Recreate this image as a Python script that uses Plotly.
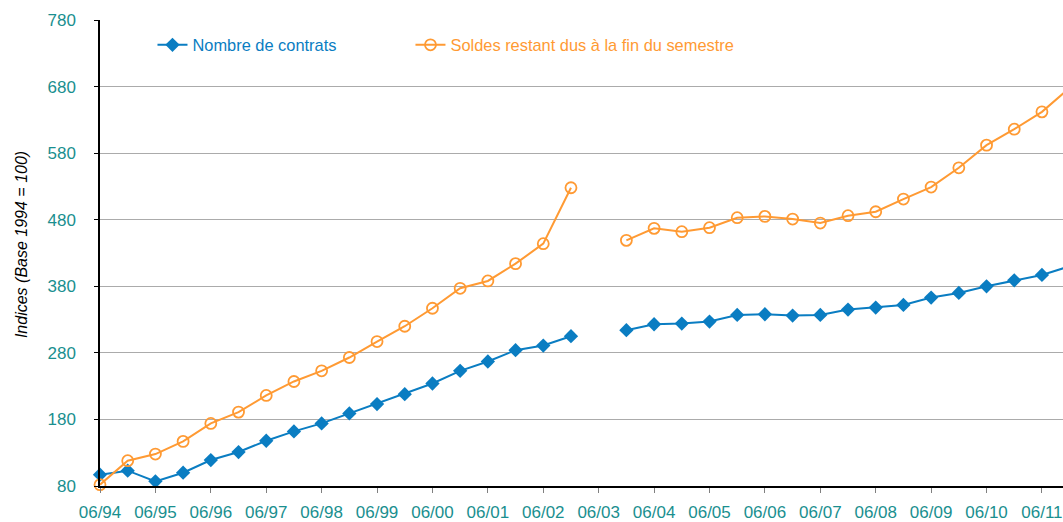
import plotly.graph_objects as go

# Semesters (June / December), 06/94 .. 12/11
semesters = ["06/94", "12/94", "06/95", "12/95", "06/96", "12/96", "06/97", "12/97",
             "06/98", "12/98", "06/99", "12/99", "06/00", "12/00", "06/01", "12/01",
             "06/02", "12/02", "06/03", "12/03", "06/04", "12/04", "06/05", "12/05",
             "06/06", "12/06", "06/07", "12/07", "06/08", "12/08", "06/09", "12/09",
             "06/10", "12/10", "06/11", "12/11"]

nombre_contrats = [97, 103, 87, 100, 119, 131, 148, 162, 174, 189, 203, 218, 234, 253,
                   267, 284, 291, 305, None, 314, 323, 324, 327, 337, 338, 336, 337, 345,
                   348, 352, 363, 370, 380, 389, 397, 410]

soldes_restant = [82, 118, 128, 147, 174, 191, 216, 237, 253, 273, 297, 320, 347, 377,
                  388, 414, 444, 528, None, 449, 467, 462, 468, 483, 485, 481, 475, 486,
                  492, 511, 529, 558, 592, 616, 642, 678]

tick_labels = [s for s in semesters if s.startswith("06/")]
y_ticks = [80, 180, 280, 380, 480, 580, 680, 780]

BLUE = "#0a7dc2"
ORANGE = "#ff9a33"
TEAL = "#1a8f8f"
FONT = "Liberation Sans, Arial, sans-serif"

fig = go.Figure()
fig.add_trace(go.Scatter(
    x=semesters, y=nombre_contrats, name="Nombre de contrats",
    mode="lines+markers", connectgaps=False, cliponaxis=False,
    line=dict(color=BLUE, width=2),
    marker=dict(symbol="diamond", size=11, color=BLUE),
    legend="legend",
))
fig.add_trace(go.Scatter(
    x=semesters, y=soldes_restant, name="Soldes restant dus à la fin du semestre",
    mode="lines+markers", connectgaps=False, cliponaxis=False,
    line=dict(color=ORANGE, width=2),
    marker=dict(symbol="circle-open", size=11, color=ORANGE, line=dict(width=1.8, color=ORANGE)),
    legend="legend2",
))

fig.update_layout(
    width=1063, height=522,
    margin=dict(l=100, r=0, t=20, b=34),
    paper_bgcolor="white", plot_bgcolor="white",
    font=dict(family=FONT, size=16, color=TEAL),
    showlegend=True,
    legend=dict(
        orientation="h", x=0.0545, y=0.9835, xanchor="left", yanchor="top",
        bgcolor="rgba(0,0,0,0)", font=dict(size=16.4, color=BLUE),
    ),
    legend2=dict(
        orientation="h", x=0.3224, y=0.9835, xanchor="left", yanchor="top",
        bgcolor="rgba(0,0,0,0)", font=dict(size=16.4, color=ORANGE),
    ),
    annotations=[dict(
        text="<i>Indices (Base 1994 = 100)</i>", textangle=-90,
        xref="paper", yref="paper", x=0, y=0.517, xanchor="center", yanchor="middle",
        xshift=-79, showarrow=False,
        font=dict(color="black", size=16, family=FONT),
    )],
)

fig.update_xaxes(
    type="category", categoryorder="array", categoryarray=semesters,
    range=[0, 34.76],
    tickmode="array", tickvals=tick_labels, ticktext=tick_labels,
    ticks="outside", ticklen=5, tickcolor="#808080",
    showline=True, linecolor="black", linewidth=1.5,
    showgrid=False, zeroline=False,
    tickfont=dict(color=TEAL, size=17, family=FONT),
    ticklabelstandoff=5,
)
fig.update_yaxes(
    range=[80, 780], tickmode="array", tickvals=y_ticks,
    ticks="outside", ticklen=4, tickcolor="black",
    showline=True, linecolor="black", linewidth=1.5,
    showgrid=True, gridcolor="#ababab", gridwidth=1, zeroline=False,
    tickfont=dict(color=TEAL, size=17, family=FONT),
    ticklabelstandoff=15,
)

# remove the browser's default 8px body margin so the figure fills the window exactly
fig.write_html(
    "out.html",
    config={"displayModeBar": False},
    post_script="document.body.style.margin='0';document.body.style.overflow='hidden';",
)
